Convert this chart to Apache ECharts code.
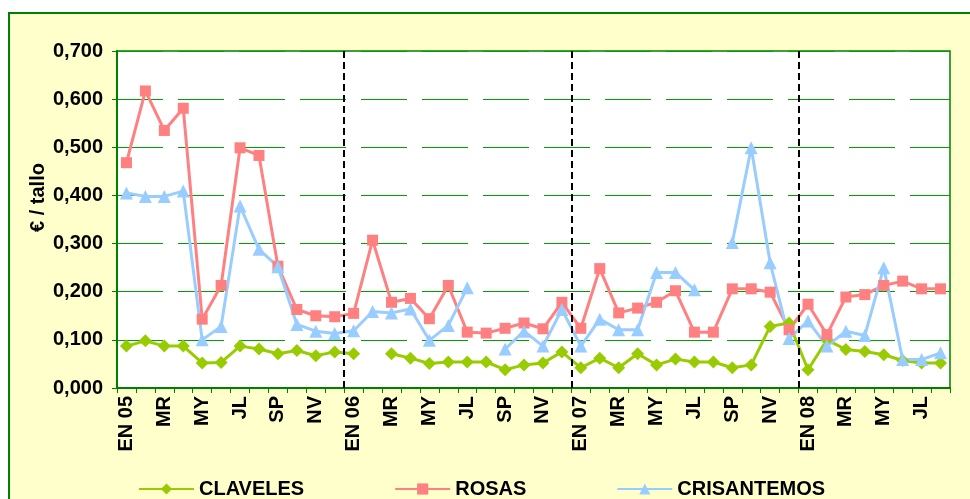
<!DOCTYPE html>
<html>
<head>
<meta charset="utf-8">
<script src="https://cdn.jsdelivr.net/npm/echarts@6/dist/echarts.min.js"></script>
<style>
  html, body { margin: 0; padding: 0; background: #ffffff; overflow: hidden; }
  #frame {
    position: absolute; left: 8px; top: 12px; width: 1000px; height: 600px;
    background: #ffffcc; border: 2px solid #008000; box-sizing: border-box;
  }
  #main { position: absolute; left: 0; top: 0; width: 970px; height: 499px; }
</style>
</head>
<body>
<div id="frame"></div>
<div id="main"></div>
<script>
  var categories = [
    'EN 05','FB','MR','AB','MY','JN','JL','AG','SP','OC','NV','DC',
    'EN 06','FB','MR','AB','MY','JN','JL','AG','SP','OC','NV','DC',
    'EN 07','FB','MR','AB','MY','JN','JL','AG','SP','OC','NV','DC',
    'EN 08','FB','MR','AB','MY','JN','JL','AG'
  ];
  var claveles = [
    0.087,0.098,0.087,0.087,0.052,0.053,0.087,0.081,0.071,0.078,0.067,0.075,
    0.071,null,0.071,0.062,0.051,0.054,0.054,0.054,0.038,0.048,0.052,0.075,
    0.042,0.062,0.042,0.071,0.048,0.060,0.054,0.054,0.042,0.048,0.128,0.135,
    0.038,0.100,0.080,0.076,0.069,0.057,0.052,0.052
  ];
  var rosas = [
    0.468,0.617,0.535,0.581,0.143,0.213,0.499,0.483,0.253,0.163,0.150,0.148,
    0.155,0.307,0.178,0.186,0.144,0.213,0.116,0.114,0.124,0.135,0.123,0.178,
    0.124,0.248,0.156,0.166,0.178,0.202,0.116,0.116,0.206,0.206,0.199,0.121,
    0.174,0.111,0.189,0.194,0.213,0.222,0.206,0.206
  ];
  var crisantemos = [
    0.405,0.398,0.398,0.409,0.100,0.128,0.378,0.288,0.252,0.132,0.118,0.113,
    0.119,0.159,0.156,0.164,0.099,0.130,0.208,null,0.081,0.118,0.087,0.163,
    0.087,0.143,0.121,0.121,0.240,0.240,0.204,null,0.302,0.499,0.260,0.103,
    0.139,0.087,0.118,0.109,0.250,0.059,0.059,0.073
  ];
  // year boundaries (category edges) for the dashed separators
  var yearBreaks = [12, 24, 36];

  var font = "'Liberation Sans', Arial, sans-serif";
  var green = '#008000';

  var myChart = echarts.init(document.getElementById('main'));
  myChart.setOption({
    animation: false,
    backgroundColor: 'transparent',
    textStyle: { fontFamily: font },
    grid: {
      left: 117, right: 20, top: 51, bottom: 111,
      show: true,
      backgroundColor: '#ffffff',
      borderColor: green,
      borderWidth: 1.5
    },
    legend: {
      data: ['CLAVELES', 'ROSAS', 'CRISANTEMOS'],
      left: 133,
      top: 474,
      itemWidth: 55,
      itemHeight: 14,
      itemGap: 90,
      textStyle: { color: '#000', fontWeight: 'bold', fontSize: 20, fontFamily: font }
    },
    xAxis: [
      {
        type: 'category',
        data: categories,
        boundaryGap: true,
        axisLine: { lineStyle: { color: green, width: 2 } },
        axisTick: { show: true, interval: 0, length: 5, lineStyle: { color: green, width: 1 } },
        axisLabel: {
          interval: 1,
          rotate: 90,
          margin: 8,
          color: '#000',
          fontWeight: 'bold',
          fontSize: 20,
          fontFamily: font
        },
        splitLine: { show: false }
      },
      {
        type: 'value',
        min: 0,
        max: categories.length,
        show: false
      }
    ],
    yAxis: {
      type: 'value',
      min: 0,
      max: 0.7,
      interval: 0.1,
      name: '€ / tallo',
      nameLocation: 'middle',
      nameGap: 69,
      nameMoveOverlap: false,
      nameRotate: 90,
      nameTextStyle: { color: '#000', fontWeight: 'bold', fontSize: 20, fontFamily: font, padding: [0, 0, 0, 44] },
      axisLine: { show: true, lineStyle: { color: green, width: 2 } },
      axisTick: { show: true, length: 5, lineStyle: { color: green, width: 1 } },
      axisLabel: {
        margin: 14,
        color: '#000',
        fontWeight: 'bold',
        fontSize: 20,
        fontFamily: font,
        formatter: function (v) { return v.toFixed(3).replace('.', ','); }
      },
      splitLine: { show: true, lineStyle: { color: '#00a000', width: 1, type: [46, 15] } }
    },
    series: [
      {
        name: 'CLAVELES',
        type: 'line',
        data: claveles,
        connectNulls: false,
        showAllSymbol: true,
        symbol: 'diamond',
        symbolSize: 13,
        itemStyle: { color: '#99cc00' },
        lineStyle: { color: '#99cc00', width: 3 }
      },
      {
        name: 'ROSAS',
        type: 'line',
        data: rosas,
        connectNulls: false,
        showAllSymbol: true,
        symbol: 'rect',
        symbolSize: 11,
        itemStyle: { color: '#ff8080' },
        lineStyle: { color: '#ff8080', width: 3 }
      },
      {
        name: 'CRISANTEMOS',
        type: 'line',
        data: crisantemos,
        connectNulls: false,
        showAllSymbol: true,
        symbol: 'triangle',
        symbolSize: 13,
        itemStyle: { color: '#99ccff' },
        lineStyle: { color: '#99ccff', width: 3 }
      },
      {
        name: 'separadores',
        type: 'line',
        xAxisIndex: 1,
        data: [],
        markLine: {
          silent: true,
          symbol: 'none',
          label: { show: false },
          lineStyle: { color: '#000', type: [7, 4], width: 2 },
          data: yearBreaks.map(function (b) { return { xAxis: b }; })
        }
      }
    ]
  });
</script>
</body>
</html>
